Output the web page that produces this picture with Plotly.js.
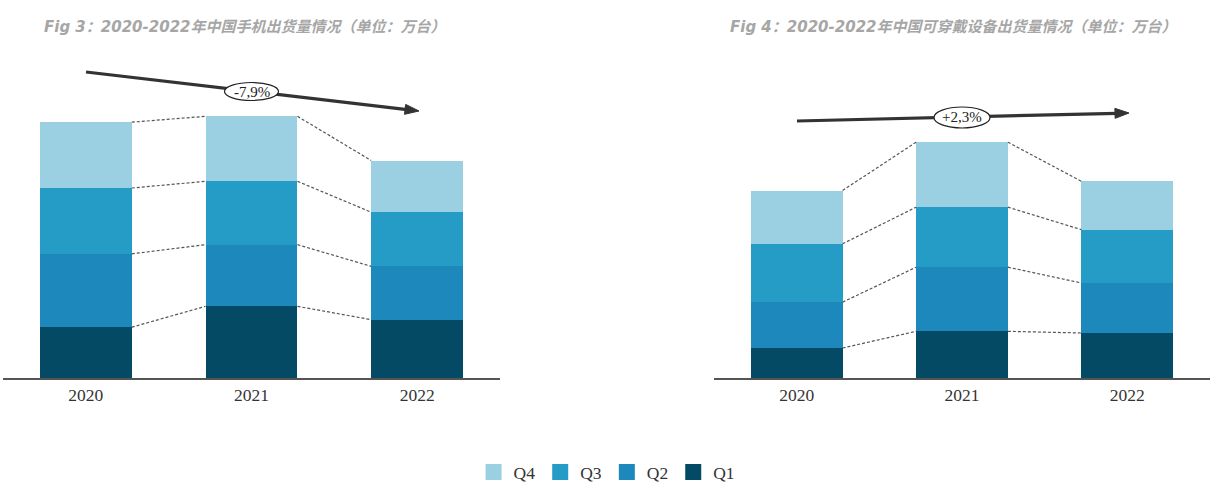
<!DOCTYPE html>
<html>
<head>
<meta charset="utf-8">
<script src="https://cdn.plot.ly/plotly-3.0.1.min.js"></script>
<style>html,body{margin:0;padding:0;background:#fff;}#chart{width:1219px;height:492px;}</style>
</head>
<body>
<div id="chart"></div>
<script>
// ---- data (万台) ----
const years = ['2020', '2021', '2022'];
const quarterNames = ['Q1', 'Q2', 'Q3', 'Q4'];

const phoneQ1 = [6100, 8600, 7000];
const phoneQ2 = [8800, 7400, 6400];
const phoneQ3 = [7900, 7600, 6500];
const phoneQ4 = [7900, 7800, 6200];

const wearQ1 = [1800, 2800, 2700];
const wearQ2 = [2750, 3850, 3000];
const wearQ3 = [3500, 3600, 3200];
const wearQ4 = [3200, 3900, 2900];

const phoneTitle = 'Fig 3：2020-2022年中国手机出货量情况（单位：万台）';
const wearTitle = 'Fig 4：2020-2022年中国可穿戴设备出货量情况（单位：万台）';
const phoneGrowth = '-7,9%';
const wearGrowth = '+2,3%';

// ---- styling ----
const colors = {Q1: '#044a64', Q2: '#1c88bb', Q3: '#259cc5', Q4: '#9bd0e3'};
const W = 1219, H = 492;
const px = x => x / W;
const py = y => 1 - y / H;
const barWidth = 0.555;
const baseY = 378;
const yDomain = [py(baseY), 1];
const phoneRange = [0, 45360];
const wearRange = [0, 22680];
const serif = 'Liberation Serif, Times New Roman, serif';

const xpos = years.map((_, i) => i);
const traces = [];

function addChart(series, xa, ya) {
  series.forEach((vals, k) => {
    const q = quarterNames[k];
    traces.push({
      type: 'bar', x: xpos, y: vals, name: q, xaxis: xa, yaxis: ya,
      width: barWidth, marker: {color: colors[q], line: {width: 0}},
      showlegend: false, legendgroup: q, hoverinfo: 'skip'
    });
  });
  // dashed connectors between stacked boundaries
  const cx = [], cy = [];
  let cum = years.map(() => 0);
  series.forEach(vals => {
    cum = cum.map((c, i) => c + vals[i]);
    for (let i = 0; i < years.length - 1; i++) {
      cx.push(i + barWidth / 2, i + 1 - barWidth / 2, null);
      cy.push(cum[i], cum[i + 1], null);
    }
  });
  traces.push({
    type: 'scatter', mode: 'lines', x: cx, y: cy, xaxis: xa, yaxis: ya,
    line: {color: '#555', width: 1.2, dash: '3px,2px'},
    showlegend: false, hoverinfo: 'skip'
  });
}
addChart([phoneQ1, phoneQ2, phoneQ3, phoneQ4], 'x', 'y');
addChart([wearQ1, wearQ2, wearQ3, wearQ4], 'x2', 'y2');

// legend entries (square swatches) for the quarter series, Q4 first
quarterNames.slice().reverse().forEach(q => {
  traces.push({type: 'scatter', mode: 'markers', x: [null], y: [null], name: q,
    legendgroup: q, showlegend: true, hoverinfo: 'skip',
    marker: {symbol: 'square', size: 18, color: colors[q]}});
});

// ---- arrows with ellipse labels ----
const shapes = [];
const annotations = [];
function arrow(tail, head, labelC, labelW, labelH, text) {
  const dx = head[0] - tail[0], dy = head[1] - tail[1];
  const L = Math.hypot(dx, dy), ux = dx / L, uy = dy / L, nx = -uy, ny = ux;
  const hl = 14, hw = 5;
  const bx = head[0] - hl * ux, by = head[1] - hl * uy;
  shapes.push({type: 'line', xref: 'paper', yref: 'paper',
    x0: px(tail[0]), y0: py(tail[1]), x1: px(bx + 2 * ux), y1: py(by + 2 * uy),
    line: {color: '#333', width: 3.2}});
  shapes.push({type: 'path', xref: 'paper', yref: 'paper',
    path: `M${px(head[0])},${py(head[1])} L${px(bx + hw * nx)},${py(by + hw * ny)} L${px(bx - hw * nx)},${py(by - hw * ny)} Z`,
    fillcolor: '#333', line: {color: '#333', width: 1}});
  shapes.push({type: 'circle', xref: 'paper', yref: 'paper',
    x0: px(labelC[0] - labelW / 2), x1: px(labelC[0] + labelW / 2),
    y0: py(labelC[1] + labelH / 2), y1: py(labelC[1] - labelH / 2),
    fillcolor: '#fff', line: {color: '#222', width: 1.2}});
  annotations.push({xref: 'paper', yref: 'paper', x: px(labelC[0]), y: py(labelC[1]),
    text: text, showarrow: false, xanchor: 'center', yanchor: 'middle',
    font: {family: serif, size: 15, color: '#222'}});
}
arrow([86, 72], [419, 111], [251.5, 91.5], 54, 18, phoneGrowth);
arrow([797, 121], [1129, 113], [962, 117.5], 56, 21, wearGrowth);

const titleFont = {family: 'DejaVu Sans, Noto Sans CJK SC, sans-serif', size: 15,
  color: '#a6a6a6', weight: 'bold', style: 'italic'};
annotations.push({xref: 'paper', yref: 'paper', x: px(245), y: py(27), text: phoneTitle,
  showarrow: false, xanchor: 'center', yanchor: 'middle', font: titleFont});
annotations.push({xref: 'paper', yref: 'paper', x: px(953), y: py(27), text: wearTitle,
  showarrow: false, xanchor: 'center', yanchor: 'middle', font: titleFont});

const tickFont = {family: serif, size: 17.5, color: '#333'};
function xAxis(domain, anchor) {
  return {domain: domain, anchor: anchor, range: [-0.5, 2.5], tickvals: xpos, ticktext: years,
    showline: true, linecolor: '#555', linewidth: 2, showgrid: false, zeroline: false,
    ticks: '', tickfont: tickFont, fixedrange: true};
}
function yAxis(range, anchor) {
  return {domain: yDomain, anchor: anchor, range: range, visible: false, fixedrange: true};
}

const layout = {
  width: W, height: H,
  margin: {l: 0, r: 0, t: 0, b: 0},
  paper_bgcolor: '#fff', plot_bgcolor: '#fff',
  barmode: 'stack',
  xaxis: xAxis([px(3), px(500)], 'y'),
  yaxis: yAxis(phoneRange, 'x'),
  xaxis2: xAxis([px(714), px(1210)], 'y2'),
  yaxis2: yAxis(wearRange, 'x2'),
  showlegend: true,
  legend: {orientation: 'h', traceorder: 'normal', x: 0.498, xanchor: 'center',
    y: py(472), yanchor: 'middle', font: {family: serif, size: 17.5, color: '#333'},
    itemwidth: 30},
  shapes: shapes,
  annotations: annotations
};

Plotly.newPlot('chart', traces, layout, {displayModeBar: false, staticPlot: true});
</script>
</body>
</html>
